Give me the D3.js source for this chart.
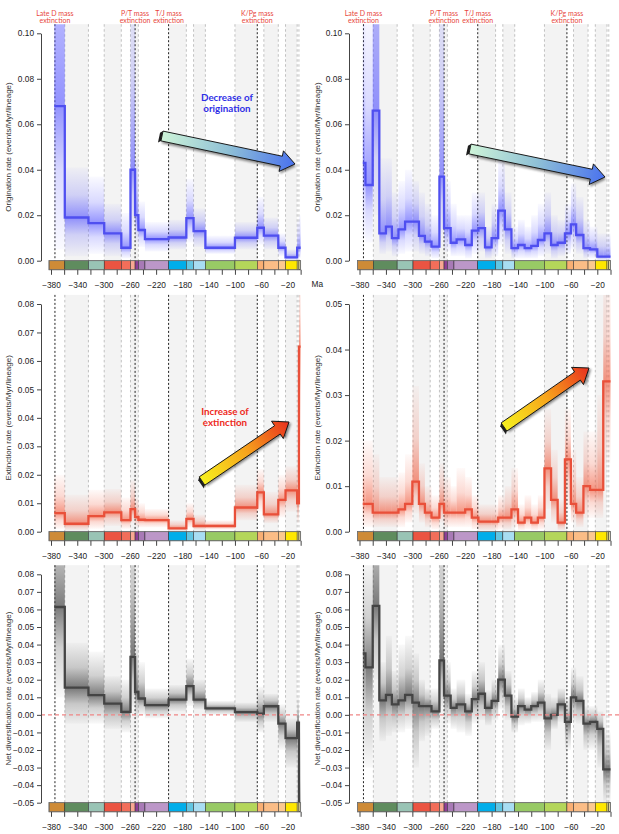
<!DOCTYPE html>
<html>
<head>
<meta charset="utf-8">
<script src="https://cdn.jsdelivr.net/npm/d3@7"></script>
<style>
  body { margin: 0; background: #fff; }
  svg text { font-family: "Liberation Sans", Arial, sans-serif; }
</style>
</head>
<body>
<svg id="chart" width="619" height="834"></svg>
<script>
// ---- time bins (Ma, negative = before present) ----
const coarseBreaks = [-375, -359, -323, -299, -273, -259, -252, -247, -237, -201, -174, -163, -145, -100, -66, -56, -34, -23, -5.3, -2.6, 0];
const fineBreaks = [-375, -371, -360, -350, -340, -331, -321, -311, -300, -290, -281, -271, -259, -252, -242, -233, -220, -210, -200, -190,
                    -180, -170, -160, -150, -140, -130, -120, -110, -100, -90, -80, -69, -60, -52, -41, -31, -20, -11, 0];

// ---- left column (coarse bins) ----
const origCoarse   = [0.068, 0.019, 0.0165, 0.012, 0.0057, 0.040, 0.020, 0.0135, 0.0095, 0.0102, 0.0187, 0.013, 0.0057, 0.0101, 0.0145, 0.011, 0.0057, 0.0015, 0.0057, 0.0057];
const origCoarseHi = [0.25, 0.041, 0.037, 0.025, 0.021, 0.13, 0.045, 0.026, 0.017, 0.018, 0.036, 0.023, 0.011, 0.017, 0.028, 0.019, 0.012, 0.005, 0.018, 0.02];
const origCoarseLo = [0.005, 0.002, 0.003, 0.002, 0.001, 0.015, 0.008, 0.006, 0.004, 0.005, 0.008, 0.006, 0.003, 0.005, 0.007, 0.005, 0.002, 0.0003, 0.001, 0.001];

const extCoarse   = [0.0065, 0.0028, 0.0055, 0.0068, 0.0041, 0.0079, 0.0051, 0.0042, 0.0041, 0.0012, 0.0045, 0.002, 0.002, 0.0085, 0.0138, 0.0061, 0.0112, 0.0145, 0.010, 0.065];
const extCoarseHi = [0.02, 0.013, 0.0147, 0.015, 0.012, 0.018, 0.012, 0.01, 0.008, 0.004, 0.01, 0.006, 0.004, 0.0165, 0.022, 0.014, 0.02, 0.023, 0.025, 0.09];
const extCoarseLo = [0.001, 0.0005, 0.001, 0.002, 0.001, 0.003, 0.002, 0.0015, 0.0015, 0.0003, 0.0015, 0.0007, 0.0007, 0.004, 0.007, 0.003, 0.005, 0.007, 0.003, 0.03];

const netCoarse   = [0.0614, 0.0155, 0.0112, 0.0064, 0.0017, 0.033, 0.013, 0.0093, 0.0055, 0.0087, 0.0163, 0.0087, 0.0037, 0.0016, 0.0007, 0.0049, -0.005, -0.0133, -0.0045, -0.059];
const netCoarseHi = [0.14, 0.041, 0.036, 0.022, 0.02, 0.12, 0.04, 0.03, 0.015, 0.017, 0.032, 0.02, 0.008, 0.007, 0.016, 0.012, 0.006, -0.002, 0.01, -0.01];
const netCoarseLo = [0.01, -0.005, -0.005, -0.008, -0.01, 0.005, -0.002, 0.0, -0.002, 0.002, 0.005, 0.003, 0.0, -0.004, -0.01, -0.004, -0.02, -0.03, -0.025, -0.09];

// ---- right column (fine bins) ----
const origFine   = [0.043, 0.0333, 0.066, 0.012, 0.015, 0.0099, 0.0138, 0.0172, 0.0172, 0.0109, 0.0084, 0.0062, 0.037, 0.0143, 0.0079, 0.0094, 0.0069, 0.0132, 0.0143,
                    0.0059, 0.0099, 0.022, 0.0138, 0.0055, 0.0069, 0.0055, 0.0065, 0.0091, 0.012, 0.0069, 0.0079, 0.012, 0.016, 0.0113, 0.0055, 0.005, 0.0018, 0.0018];
const origFineHi = [0.12, 0.11, 0.25, 0.045, 0.045, 0.03, 0.035, 0.04, 0.035, 0.03, 0.025, 0.02, 0.13, 0.035, 0.025, 0.02, 0.02, 0.03, 0.03,
                    0.015, 0.025, 0.045, 0.03, 0.015, 0.018, 0.015, 0.02, 0.025, 0.03, 0.02, 0.018, 0.025, 0.034, 0.028, 0.018, 0.015, 0.012, 0.012];
const origFineLo = [0.01, 0.008, 0.02, 0.003, 0.004, 0.002, 0.003, 0.004, 0.004, 0.003, 0.002, 0.001, 0.012, 0.004, 0.002, 0.002, 0.001, 0.003, 0.004,
                    0.001, 0.002, 0.007, 0.003, 0.001, 0.001, 0.001, 0.001, 0.002, 0.003, 0.001, 0.002, 0.003, 0.005, 0.003, 0.001, 0.001, 0.0003, 0.0003];

const extFine   = [0.0061, 0.0061, 0.0042, 0.0042, 0.0042, 0.0042, 0.0049, 0.0061, 0.011, 0.0061, 0.0042, 0.0031, 0.0061, 0.0042, 0.0042, 0.0042, 0.0049, 0.0031, 0.0022,
                   0.0022, 0.0022, 0.0031, 0.0031, 0.0049, 0.002, 0.0031, 0.002, 0.0031, 0.0139, 0.007, 0.002, 0.0159, 0.0061, 0.0042, 0.010, 0.0092, 0.0092, 0.033];
const extFineHi = [0.02, 0.02, 0.017, 0.012, 0.012, 0.012, 0.013, 0.017, 0.032, 0.015, 0.01, 0.008, 0.015, 0.012, 0.01, 0.014, 0.012, 0.008, 0.006,
                   0.006, 0.006, 0.008, 0.01, 0.014, 0.006, 0.008, 0.006, 0.008, 0.027, 0.018, 0.007, 0.027, 0.018, 0.012, 0.022, 0.022, 0.03, 0.055];
const extFineLo = [0.001, 0.001, 0.001, 0.001, 0.001, 0.001, 0.001, 0.002, 0.004, 0.002, 0.001, 0.0005, 0.002, 0.001, 0.001, 0.001, 0.001, 0.0005, 0.0003,
                   0.0003, 0.0003, 0.0005, 0.0005, 0.001, 0.0003, 0.0005, 0.0003, 0.0005, 0.005, 0.002, 0.0003, 0.005, 0.002, 0.001, 0.003, 0.003, 0.003, 0.015];

const netFine   = [0.035, 0.027, 0.062, 0.0082, 0.0114, 0.006, 0.0082, 0.0114, 0.007, 0.005, 0.005, 0.002, 0.031, 0.011, 0.004, 0.006, 0.002, 0.009, 0.012,
                   0.004, 0.008, 0.020, 0.011, -0.001, 0.005, 0.003, 0.005, 0.007, -0.002, 0.000, 0.006, -0.004, 0.010, 0.008, -0.005, -0.004, -0.008, -0.031];
const netFineHi = [0.09, 0.09, 0.14, 0.03, 0.045, 0.025, 0.04, 0.045, 0.035, 0.02, 0.015, 0.015, 0.12, 0.03, 0.015, 0.02, 0.012, 0.025, 0.03,
                   0.014, 0.02, 0.04, 0.025, 0.01, 0.015, 0.01, 0.013, 0.02, 0.012, 0.01, 0.015, 0.01, 0.027, 0.022, 0.005, 0.005, 0.002, -0.01];
const netFineLo = [-0.03, -0.03, 0.02, -0.015, -0.012, -0.01, -0.01, -0.008, -0.03, -0.015, -0.012, -0.008, 0.005, -0.005, -0.008, -0.01, -0.012, -0.005, -0.003,
                   -0.006, -0.003, 0.003, -0.003, -0.01, -0.006, -0.005, -0.004, -0.004, -0.02, -0.008, -0.004, -0.02, -0.004, -0.005, -0.02, -0.02, -0.03, -0.05];

// ---- geological time scale ----
const geoBreaks = [-383, -359, -323, -299, -273, -259, -252, -247, -237, -201, -174, -163, -145, -100, -66, -56, -34, -23, -5.3, -2.6, 0];
const geoColors = ["#CE8B37", "#5F8C5E", "#99C4B5", "#EB5442", "#F26E5A", "#F8A893", "#8E3F95", "#A87AB6", "#BC97C8", "#00AEEA",
                   "#62C6E2", "#A8DDF2", "#98CA65", "#B4D65A", "#F9AF73", "#FBBD86", "#FCC98F", "#FFE800", "#FFF27A", "#E8E0A0"];
const shadedBands = [[-359, -323], [-299, -273], [-259, -247], [-201, -174], [-163, -145], [-100, -66], [-56, -34], [-23, -5.3]];
const stageLines = [-359, -323, -299, -273, -259, -247, -174, -163, -145, -100, -56, -34, -23, -5.3, -2.6];
const massExtinctions = [-374, -252, -201, -66];
const massLabels = ["Late D mass", "P/T mass", "T/J mass", "K/Pg mass"];

const xTickValues = [-380, -360, -340, -320, -300, -280, -260, -240, -220, -200, -180, -160, -140, -120, -100, -80, -60, -40, -20, 0];
const xTickLabels = [-380, -340, -300, -260, -220, -180, -140, -100, -60, -20];
const origTicks = [0, 0.02, 0.04, 0.06, 0.08, 0.10];
const extTicksLeft = [0, 0.01, 0.02, 0.03, 0.04, 0.05, 0.06, 0.07, 0.08];
const extTicksRight = [0, 0.01, 0.02, 0.03, 0.04, 0.05];
const netTicks = [-0.05, -0.04, -0.03, -0.02, -0.01, 0, 0.01, 0.02, 0.03, 0.04, 0.05, 0.06, 0.07, 0.08];

// ---- layout ----
const columns = [
  {range: [51, 287.5], left: 41, right: 310, titleX: 10.5},
  {range: [359.5, 597.3], left: 349, right: 619, titleX: 319.5}
];

const panels = [
  {id: "o1", col: 0, domain: [0, 0.10], yr: [260.7, 33.3], ticks: origTicks, breaks: coarseBreaks, med: origCoarse, hi: origCoarseHi, lo: origCoarseLo, color: "blue", title: "Origination rate (events/Myr/lineage)"},
  {id: "o2", col: 1, domain: [0, 0.10], yr: [260.7, 33.3], ticks: origTicks, breaks: fineBreaks, med: origFine, hi: origFineHi, lo: origFineLo, color: "blue", title: "Origination rate (events/Myr/lineage)"},
  {id: "e1", col: 0, domain: [0, 0.08], yr: [531.7, 304], ticks: extTicksLeft, breaks: coarseBreaks, med: extCoarse, hi: extCoarseHi, lo: extCoarseLo, color: "red", title: "Extinction rate (events/Myr/lineage)"},
  {id: "e2", col: 1, domain: [0, 0.05], yr: [531.7, 304], ticks: extTicksRight, breaks: fineBreaks, med: extFine, hi: extFineHi, lo: extFineLo, color: "red", title: "Extinction rate (events/Myr/lineage)"},
  {id: "n1", col: 0, domain: [-0.05, 0.08], yr: [802.7, 574.3], ticks: netTicks, breaks: coarseBreaks, med: netCoarse, hi: netCoarseHi, lo: netCoarseLo, color: "grey", title: "Net diversification rate (events/Myr/lineage)", zero: true},
  {id: "n2", col: 1, domain: [-0.05, 0.08], yr: [802.7, 574.3], ticks: netTicks, breaks: fineBreaks, med: netFine, hi: netFineHi, lo: netFineLo, color: "grey", title: "Net diversification rate (events/Myr/lineage)", zero: true}
];

const shadeColors = {blue: "#5b5bff", red: "#f0583a", grey: "#474747"};
const shadeStrength = {blue: 0.66, red: 0.64, grey: 0.72};
const lineColors = {blue: "#4f4ff0", red: "#e9503a", grey: "#444444"};

const svg = d3.select("#chart");
svg.append("rect").attr("width", 619).attr("height", 834).attr("fill", "#fff");
const defs = svg.append("defs");

// vertical fades for the posterior shading
Object.entries(shadeColors).forEach(([k, c]) => {
  const s = shadeStrength[k];
  const up = defs.append("linearGradient").attr("id", "up-" + k)
    .attr("x1", 0).attr("y1", 0).attr("x2", 0).attr("y2", 1);
  up.append("stop").attr("offset", "0%").attr("stop-color", c).attr("stop-opacity", 0.03);
  up.append("stop").attr("offset", "55%").attr("stop-color", c).attr("stop-opacity", s * 0.35);
  up.append("stop").attr("offset", "100%").attr("stop-color", c).attr("stop-opacity", s);
  const down = defs.append("linearGradient").attr("id", "down-" + k)
    .attr("x1", 0).attr("y1", 0).attr("x2", 0).attr("y2", 1);
  down.append("stop").attr("offset", "0%").attr("stop-color", c).attr("stop-opacity", s);
  down.append("stop").attr("offset", "45%").attr("stop-color", c).attr("stop-opacity", s * 0.35);
  down.append("stop").attr("offset", "100%").attr("stop-color", c).attr("stop-opacity", 0.03);
});

function drawPanel(p) {
  const col = columns[p.col];
  const x = d3.scaleLinear().domain([-380, -20]).range(col.range);
  const y = d3.scaleLinear().domain(p.domain).range(p.yr);
  const span = p.domain[1] - p.domain[0];
  const yTop = y(p.domain[1] + 0.04 * span),
        yBase = y(p.domain[0]),
        yBar = y(p.domain[0] - 0.04 * span);

  const g = svg.append("g");
  defs.append("clipPath").attr("id", "clip-" + p.id)
    .append("rect")
    .attr("x", col.left).attr("y", yTop)
    .attr("width", col.right - col.left).attr("height", yBase - yTop);

  // alternating grey stage bands
  g.append("g").selectAll("rect").data(shadedBands).join("rect")
    .attr("x", d => x(d[0])).attr("width", d => x(d[1]) - x(d[0]))
    .attr("y", yTop).attr("height", yBase - yTop)
    .attr("fill", "#f3f3f3");

  g.append("g").selectAll("line").data(stageLines).join("line")
    .attr("x1", d => x(d)).attr("x2", d => x(d))
    .attr("y1", yTop).attr("y2", yBase)
    .attr("stroke", "#b3b3b3").attr("stroke-width", 0.8)
    .attr("stroke-dasharray", "2.5,2.5");

  g.append("g").selectAll("line").data(massExtinctions).join("line")
    .attr("x1", d => x(d)).attr("x2", d => x(d))
    .attr("y1", yTop).attr("y2", yBase)
    .attr("stroke", "#222").attr("stroke-width", 1)
    .attr("stroke-dasharray", "2,2");

  // posterior shading + median step line
  const bins = p.med.map((m, i) => ({x0: p.breaks[i], x1: p.breaks[i + 1], m: m, hi: p.hi[i], lo: p.lo[i]}));
  const sg = g.append("g").attr("clip-path", "url(#clip-" + p.id + ")");

  sg.selectAll(".up").data(bins).join("rect").attr("class", "up")
    .attr("x", d => x(d.x0)).attr("width", d => x(d.x1) - x(d.x0))
    .attr("y", d => y(d.hi)).attr("height", d => Math.max(0.01, y(d.m) - y(d.hi)))
    .attr("fill", "url(#up-" + p.color + ")");

  sg.selectAll(".down").data(bins).join("rect").attr("class", "down")
    .attr("x", d => x(d.x0)).attr("width", d => x(d.x1) - x(d.x0))
    .attr("y", d => y(d.m)).attr("height", d => Math.max(0.01, y(d.lo) - y(d.m)))
    .attr("fill", "url(#down-" + p.color + ")");

  if (p.zero) {
    g.append("line")
      .attr("x1", col.left).attr("x2", col.right)
      .attr("y1", y(0)).attr("y2", y(0))
      .attr("stroke", "#f08585").attr("stroke-width", 1.3)
      .attr("stroke-dasharray", "4,3");
  }

  const pts = bins.map(d => [d.x0, d.m]);
  pts.push([bins[bins.length - 1].x1, bins[bins.length - 1].m]);
  sg.append("path").datum(pts)
    .attr("d", d3.line().x(d => x(d[0])).y(d => y(d[1])).curve(d3.curveStepAfter))
    .attr("fill", "none")
    .attr("stroke", lineColors[p.color])
    .attr("stroke-width", 2.3)
    .attr("stroke-linejoin", "miter");

  // time scale bar
  const geo = geoColors.map((c, i) => ({a: geoBreaks[i], b: geoBreaks[i + 1], c: c}));
  g.append("g").selectAll("rect").data(geo).join("rect")
    .attr("x", d => x(d.a)).attr("width", d => x(d.b) - x(d.a))
    .attr("y", yBase).attr("height", yBar - yBase)
    .attr("fill", d => d.c)
    .attr("stroke", "#222").attr("stroke-width", 0.5);
  g.append("rect")
    .attr("x", x(geoBreaks[0])).attr("width", x(0) - x(geoBreaks[0]))
    .attr("y", yBase).attr("height", yBar - yBase)
    .attr("fill", "none").attr("stroke", "#777").attr("stroke-width", 0.8);

  // axes
  const xa = g.append("g").attr("transform", "translate(0," + yBar + ")")
    .call(d3.axisBottom(x).tickValues(xTickValues).tickSize(5).tickPadding(7)
      .tickFormat(d => xTickLabels.includes(d) ? d3.format("d")(d) : ""));
  xa.select(".domain").remove();
  xa.selectAll("line").attr("stroke", "#444");
  xa.selectAll("text").attr("font-size", 8.3).attr("fill", "#222")
    .attr("font-family", "Liberation Sans, Arial, sans-serif");

  const ya = g.append("g").attr("transform", "translate(" + col.left + ",0)")
    .call(d3.axisLeft(y).tickValues(p.ticks).tickFormat(d3.format(".2f"))
      .tickSize(4).tickSizeOuter(0).tickPadding(3));
  ya.select(".domain").attr("stroke", "#444");
  ya.selectAll("line").attr("stroke", "#444");
  ya.selectAll("text").attr("font-size", 8.3).attr("fill", "#222")
    .attr("font-family", "Liberation Sans, Arial, sans-serif");

  g.append("text")
    .attr("transform", "translate(" + col.titleX + "," + ((p.yr[0] + p.yr[1]) / 2) + ") rotate(-90)")
    .attr("text-anchor", "middle")
    .attr("font-size", 8)
    .attr("fill", "#333")
    .text(p.title);

  // mass extinction labels above the top row
  if (p.id[0] === "o") {
    const lab = g.append("g").selectAll("text").data(massExtinctions).join("text")
      .attr("x", d => x(d)).attr("y", 15.5)
      .attr("text-anchor", "middle")
      .attr("font-size", 7)
      .attr("fill", "#e8463c")
      .style("font-family", "Lato, 'Open Sans', sans-serif");
    lab.append("tspan").attr("x", d => x(d)).text((d, i) => massLabels[i]);
    lab.append("tspan").attr("x", d => x(d)).attr("dy", 7.6).text("extinction");
  }
}

panels.forEach(drawPanel);

svg.append("text").attr("x", 311.5).attr("y", 287).attr("font-size", 8.3).attr("fill", "#222").text("Ma");

// ---- block arrows ----
defs.append("filter").attr("id", "soft").append("feGaussianBlur").attr("stdDeviation", 1);

function arrowGradient(id, stops) {
  const lg = defs.append("linearGradient").attr("id", id)
    .attr("x1", 0).attr("y1", 0).attr("x2", 1).attr("y2", 0);
  stops.forEach((c, i) => lg.append("stop").attr("offset", (i / (stops.length - 1) * 100) + "%").attr("stop-color", c));
}
arrowGradient("arrowBlue", ["#cdf3d8", "#8fc0d6", "#4a72ee"]);
arrowGradient("arrowRed", ["#f6f01e", "#f7a51c", "#e8301e"]);

function blockArrow(tail, tip, grad) {
  const dx = tip[0] - tail[0], dy = tip[1] - tail[1];
  const L = Math.hypot(dx, dy), ang = Math.atan2(dy, dx) * 180 / Math.PI;
  const w = 5, hw = 10.5, hl = 14;
  const shape = [[0, -w], [L - hl, -w], [L - hl, -hw], [L, 0], [L - hl, hw], [L - hl, w], [0, w]];
  const a = svg.append("g").attr("transform", "translate(" + tail[0] + "," + tail[1] + ") rotate(" + ang + ")");
  a.append("polygon")
    .attr("points", shape.map(q => [q[0] + 1.2, q[1] + 2.2]).join(" "))
    .attr("fill", "#000").attr("opacity", 0.45).attr("filter", "url(#soft)");
  a.append("polygon")
    .attr("points", [[0, -w], [-2.6, -w + 2.2], [-2.6, w + 2.2], [0, w]].join(" "))
    .attr("fill", "#1d1d1d");
  a.append("polygon")
    .attr("points", shape.join(" "))
    .attr("fill", "url(#" + grad + ")")
    .attr("stroke", "#161616").attr("stroke-width", 0.9);
}

blockArrow([162, 136], [295, 164], "arrowBlue");
blockArrow([470, 149], [605, 177], "arrowBlue");
blockArrow([202, 481], [289, 422], "arrowRed");
blockArrow([504, 427], [589, 368], "arrowRed");

// two-line bold notes, one text element per line
function note(x, y, lines, color) {
  svg.append("g").selectAll("text").data(lines).join("text")
    .attr("x", x).attr("y", (d, i) => y + i * 10.6)
    .attr("text-anchor", "middle").attr("font-size", 9.8).attr("font-weight", "bold")
    .attr("fill", color).style("font-family", "Lato, 'Open Sans', sans-serif")
    .text(d => d);
}
note(227, 101, ["Decrease of", "origination"], "#2f2fe6");
note(225, 415, ["Increase of", "extinction"], "#ee2a22");
</script>
</body>
</html>
